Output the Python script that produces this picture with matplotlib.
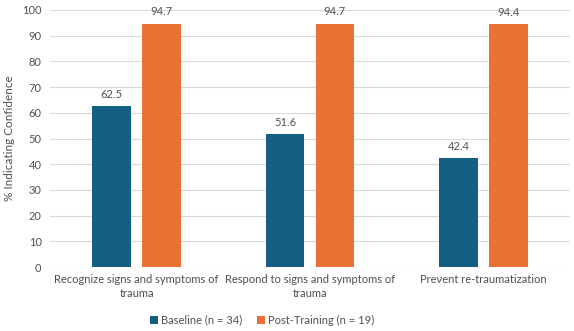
import matplotlib.pyplot as plt
import numpy as np

plt.rcParams['font.family'] = 'Lato'

categories = ['Recognize signs and symptoms of\ntrauma',
              'Respond to signs and symptoms of\ntrauma',
              'Prevent re-traumatization']
baseline = [62.5, 51.6, 42.4]
post = [94.7, 94.7, 94.4]
series_names = ['Baseline (n = 34)', 'Post-Training (n = 19)']

BLUE = '#156082'
ORANGE = '#E97132'
TXT = '#505050'

fig = plt.figure(figsize=(5.74, 3.31), dpi=100)
ax = fig.add_axes([0.087, 0.193, 0.906, 0.777])

x = np.arange(len(categories))
w = 0.224
off = 0.144
b1 = ax.bar(x - off, baseline, w, color=BLUE, label=series_names[0], zorder=3)
b2 = ax.bar(x + off, post, w, color=ORANGE, label=series_names[1], zorder=3)

for bars in (b1, b2):
    for r in bars:
        ax.text(r.get_x() + r.get_width() / 2, r.get_height() + 4.5,
                f'{r.get_height():.1f}', ha='center', va='center',
                fontsize=8, color=TXT)

ax.set_xlim(-0.5, 2.5)
ax.set_ylim(0, 100)
ax.set_yticks(range(0, 101, 10))
ax.grid(axis='y', color='#D9D9D9', linewidth=0.8, zorder=0)
for s in ax.spines.values():
    s.set_visible(False)
ax.tick_params(length=0, labelsize=8, colors=TXT)
ax.tick_params(axis='y', pad=6)
ax.tick_params(axis='x', pad=5)
ax.set_xticks(x)
ax.set_xticklabels(categories, fontsize=8, color=TXT, linespacing=1.3)
ax.set_ylabel('% Indicating Confidence', fontsize=8.5, color=TXT, labelpad=5)

ax.legend(loc='center', bbox_to_anchor=(0.408, -0.206), ncol=2, frameon=False,
          fontsize=8, handlelength=0.7, handleheight=0.7, handletextpad=0.3,
          columnspacing=1.3, labelcolor=TXT)

fig.savefig('out.png', dpi=100)
